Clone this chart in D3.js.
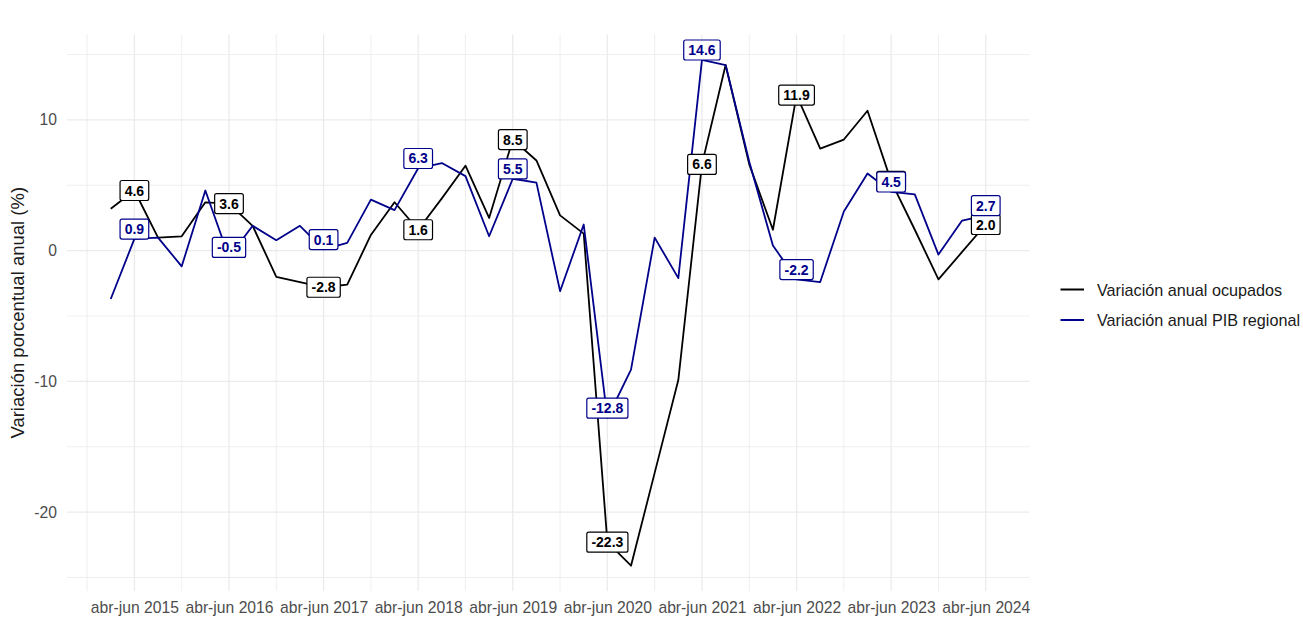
<!DOCTYPE html>
<html>
<head>
<meta charset="utf-8">
<script src="https://cdn.jsdelivr.net/npm/d3@7"></script>
<style>
  html, body { margin: 0; padding: 0; background: #ffffff; }
  svg { display: block; font-family: "Liberation Sans", Arial, sans-serif; }
</style>
</head>
<body>
<svg id="chart" width="1303" height="617"></svg>
<script>
// ---------------- DATA ----------------
const quarters = [
  "ene-mar 2015","abr-jun 2015","jul-sep 2015","oct-dic 2015",
  "ene-mar 2016","abr-jun 2016","jul-sep 2016","oct-dic 2016",
  "ene-mar 2017","abr-jun 2017","jul-sep 2017","oct-dic 2017",
  "ene-mar 2018","abr-jun 2018","jul-sep 2018","oct-dic 2018",
  "ene-mar 2019","abr-jun 2019","jul-sep 2019","oct-dic 2019",
  "ene-mar 2020","abr-jun 2020","jul-sep 2020","oct-dic 2020",
  "ene-mar 2021","abr-jun 2021","jul-sep 2021","oct-dic 2021",
  "ene-mar 2022","abr-jun 2022","jul-sep 2022","oct-dic 2022",
  "ene-mar 2023","abr-jun 2023","jul-sep 2023","oct-dic 2023",
  "ene-mar 2024","abr-jun 2024"
];
const ocupados = [
  3.2, 4.6, 1.0, 1.1,
  3.7, 3.6, 1.9, -2.0,
  -2.4, -2.8, -2.6, 1.2,
  3.7, 1.6, 4.0, 6.5,
  2.5, 8.5, 6.9, 2.7,
  1.3, -22.3, -24.1, -17.0,
  -9.9, 6.6, 14.2, 6.6,
  1.6, 11.9, 7.8, 8.5,
  10.7, 5.3, 1.6, -2.2,
  -0.1, 2.0
];
const pibRegional = [
  -3.7, 0.9, 1.0, -1.2,
  4.6, -0.5, 1.9, 0.8,
  1.9, 0.1, 0.6, 3.9,
  3.1, 6.3, 6.7, 5.7,
  1.1, 5.5, 5.2, -3.1,
  2.0, -12.8, -9.1, 1.0,
  -2.1, 14.6, 14.2, 6.8,
  0.4, -2.2, -2.4, 3.0,
  5.9, 4.5, 4.3, -0.3,
  2.3, 2.7
];
const xTickLabels = [
  "abr-jun 2015","abr-jun 2016","abr-jun 2017","abr-jun 2018","abr-jun 2019",
  "abr-jun 2020","abr-jun 2021","abr-jun 2022","abr-jun 2023","abr-jun 2024"
];
const yTicks = [-20, -10, 0, 10];
const yMinorTicks = [-25, -15, -5, 5, 15];
const seriesNames = ["Variación anual ocupados", "Variación anual PIB regional"];
const yTitle = "Variación porcentual anual (%)";

// ---------------- LAYOUT / STYLE ----------------
const W = 1303, H = 617;
const panel = { left: 67, right: 1029.5, top: 34.5, bottom: 591 };
const colors = ["#000000", "#00008B"];
const labelNudge = [0, 0.75];   // data units, per series
const FONT = '"Liberation Sans", Arial, sans-serif';
const fmt1 = v => v.toFixed(1);          // hyphen-minus, as in the original
const fmtTick = v => String(v);

const svg = d3.select("#chart");

const x = d3.scalePoint()
  .domain(quarters)
  .range([panel.left, panel.right])
  .padding(1.85);

const allVals = ocupados.concat(pibRegional);
const yMin = d3.min(allVals), yMax = d3.max(allVals);
const yPad = (yMax - yMin) * 0.05;
const y = d3.scaleLinear()
  .domain([yMin - yPad, yMax + yPad])
  .range([panel.bottom, panel.top]);

const step = x.step();

// ---------------- GRID ----------------
const grid = svg.append("g");
grid.selectAll("line.ymin").data(yMinorTicks).join("line")
  .attr("x1", panel.left).attr("x2", panel.right)
  .attr("y1", d => y(d)).attr("y2", d => y(d))
  .attr("stroke", "#ebebeb").attr("stroke-width", 0.8);
grid.selectAll("line.ymaj").data(yTicks).join("line")
  .attr("x1", panel.left).attr("x2", panel.right)
  .attr("y1", d => y(d)).attr("y2", d => y(d))
  .attr("stroke", "#ebebeb").attr("stroke-width", 1.3);
const majorX = xTickLabels.map(d => x(d));
const minorX = [majorX[0] - 2 * step].concat(majorX.slice(0, -1).map((d, i) => (d + majorX[i + 1]) / 2))
  .concat([majorX[majorX.length - 1] + 2 * step])
  .filter(v => v >= panel.left && v <= panel.right);
grid.selectAll("line.xmin").data(minorX).join("line")
  .attr("x1", d => d).attr("x2", d => d)
  .attr("y1", panel.top).attr("y2", panel.bottom)
  .attr("stroke", "#ebebeb").attr("stroke-width", 0.8);
grid.selectAll("line.xmaj").data(majorX).join("line")
  .attr("x1", d => d).attr("x2", d => d)
  .attr("y1", panel.top).attr("y2", panel.bottom)
  .attr("stroke", "#ebebeb").attr("stroke-width", 1.3);

// ---------------- AXES ----------------
const xAxis = d3.axisBottom(x).tickValues(xTickLabels).tickSize(0).tickPadding(0);
const gx = svg.append("g").attr("transform", `translate(0,${panel.bottom})`).call(xAxis);
gx.select(".domain").remove();
gx.selectAll("text")
  .attr("y", 21.5).attr("dy", 0)
  .attr("fill", "#4d4d4d").style("font-size", "15.7px").style("font-family", FONT);

const yAxis = d3.axisLeft(y).tickValues(yTicks).tickSize(0).tickPadding(10).tickFormat(fmtTick);
const gy = svg.append("g").attr("transform", `translate(${panel.left},0)`).call(yAxis);
gy.select(".domain").remove();
gy.selectAll("text")
  .attr("fill", "#4d4d4d").style("font-size", "15.7px").style("font-family", FONT);

svg.append("text")
  .attr("transform", `translate(24,${(panel.top + panel.bottom) / 2}) rotate(-90)`)
  .attr("text-anchor", "middle")
  .attr("fill", "#1a1a1a")
  .style("font-size", "18.5px").style("font-family", FONT)
  .text(yTitle);

// ---------------- LINES ----------------
const series = [ocupados, pibRegional];
const line = d3.line().x((d, i) => x(quarters[i])).y(d => y(d));
series.forEach((vals, s) => {
  svg.append("path")
    .datum(vals)
    .attr("d", line)
    .attr("fill", "none")
    .attr("stroke", colors[s])
    .attr("stroke-width", 1.8)
    .attr("stroke-linejoin", "round");
});

// ---------------- LABELS ----------------
series.forEach((vals, s) => {
  const g = svg.append("g");
  const pts = quarters.map((q, i) => ({ q, v: vals[i] })).filter(d => d.q.startsWith("abr-jun"));
  pts.forEach(d => {
    const cx = x(d.q), cy = y(d.v + labelNudge[s]);
    const lg = g.append("g");
    const rect = lg.append("rect");
    const t = lg.append("text")
      .attr("x", cx).attr("y", cy)
      .attr("text-anchor", "middle")
      .attr("dominant-baseline", "central")
      .attr("fill", colors[s])
      .style("font-size", "14px").style("font-weight", "bold").style("font-family", FONT)
      .text(fmt1(d.v));
    const bb = t.node().getBBox();
    const padX = 4.5, h = 20;
    rect.attr("x", cx - bb.width / 2 - padX).attr("y", cy - h / 2)
      .attr("width", bb.width + 2 * padX).attr("height", h)
      .attr("rx", 2).attr("ry", 2)
      .attr("fill", "#ffffff").attr("stroke", colors[s]).attr("stroke-width", 1.2);
  });
});

// ---------------- LEGEND ----------------
const legend = svg.append("g");
const legendY = [289.5, 320];
seriesNames.forEach((name, i) => {
  legend.append("line")
    .attr("x1", 1060.5).attr("x2", 1084)
    .attr("y1", legendY[i]).attr("y2", legendY[i])
    .attr("stroke", colors[i]).attr("stroke-width", 2);
  legend.append("text")
    .attr("x", 1097).attr("y", legendY[i])
    .attr("dominant-baseline", "central")
    .attr("fill", "#1a1a1a")
    .style("font-size", "16.2px").style("font-family", FONT)
    .text(name);
});
</script>
</body>
</html>
